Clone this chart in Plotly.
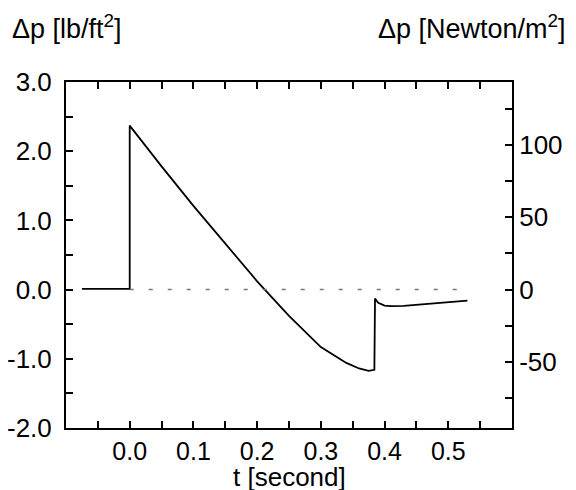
import plotly.graph_objects as go

# pressure jump signature
t = [-0.075, 0.0, 0.0, 0.05, 0.10, 0.15, 0.20, 0.25, 0.30, 0.34, 0.36, 0.375,
     0.384, 0.385, 0.39, 0.40, 0.41, 0.43, 0.46, 0.50, 0.53]
dp = [0.01, 0.01, 2.37, 1.78, 1.21, 0.66, 0.12, -0.38, -0.83, -1.06, -1.14, -1.175,
      -1.16, -0.13, -0.19, -0.23, -0.24, -0.235, -0.215, -0.185, -0.16]

zero_t = [0.0, 0.53]
zero_p = [0.0, 0.0]

# ticks and labels
x_fine = [-0.05, 0.0, 0.05, 0.1, 0.15, 0.2, 0.25, 0.3, 0.35, 0.4, 0.45, 0.5, 0.55]
x_fine_labels = ['', '0.0', '', '0.1', '', '0.2', '', '0.3', '', '0.4', '', '0.5', '']
y_fine = [-1.5, -1.0, -0.5, 0.0, 0.5, 1.0, 1.5, 2.0, 2.5]
y_fine_labels = ['', '-1.0', '', '0.0', '', '1.0', '', '2.0', '']
y_edge_labels = ['-2.0', '3.0']
pa_fine = [-75, -50, -25, 0, 25, 50, 75, 100, 125]
pa_fine_labels = ['', '-50', '', '0', '', '50', '', '100', '']

PA_PER_PSF = 47.88
x_range = [-0.1, 0.6]
y_range = [-2.0, 3.0]

font = "Liberation Sans, Arial, sans-serif"
frame = dict(showline=True, linecolor='black', linewidth=2,
             showgrid=False, zeroline=False, automargin=False,
             ticks='inside', tickwidth=2, tickcolor='black')

fig = go.Figure()

fig.add_trace(go.Scatter(
    x=t, y=dp, mode='lines',
    line=dict(color='black', width=1.8),
    showlegend=False, hoverinfo='skip'
))

# dashed zero line, drawn on the right axis
fig.add_trace(go.Scatter(
    x=zero_t, y=zero_p, mode='lines', yaxis='y2',
    line=dict(color='#777777', width=1.5, dash='4px,15px'),
    showlegend=False, hoverinfo='skip'
))

fig.update_layout(
    width=568, height=482,
    margin=dict(l=58, r=64, t=74, b=62),
    plot_bgcolor='white', paper_bgcolor='white',
    font=dict(family=font, size=26, color='black'),
    xaxis=dict(
        range=x_range, tickmode='array', tickvals=x_fine, ticktext=x_fine_labels,
        ticklen=7, mirror='ticks', tickfont=dict(size=25), **frame,
    ),
    yaxis=dict(
        range=y_range, tickmode='array',
        tickvals=[y_range[0]] + y_fine + [y_range[1]],
        ticktext=[y_edge_labels[0]] + y_fine_labels + [y_edge_labels[1]],
        ticklen=7, ticklabelstandoff=7, **frame,
    ),
    yaxis2=dict(
        range=[y_range[0] * PA_PER_PSF, y_range[1] * PA_PER_PSF],
        overlaying='y', side='right',
        tickmode='array', tickvals=pa_fine, ticktext=pa_fine_labels,
        ticklen=7, **frame,
    ),
    annotations=[
        dict(text='Δp [lb/ft<sup>2</sup>]', xref='paper', yref='paper',
             x=-0.1256, y=1.158, xanchor='left', yanchor='middle', showarrow=False,
             font=dict(size=27)),
        dict(text='Δp [Newton/m<sup>2</sup>]', xref='paper', yref='paper',
             x=1.1256, y=1.158, xanchor='right', yanchor='middle', showarrow=False,
             font=dict(size=27)),
        dict(text='t [second]', xref='paper', yref='paper',
             x=0.5, y=-0.141, xanchor='center', yanchor='middle', showarrow=False,
             font=dict(size=26)),
    ],
)

fig.write_html("out.html")
